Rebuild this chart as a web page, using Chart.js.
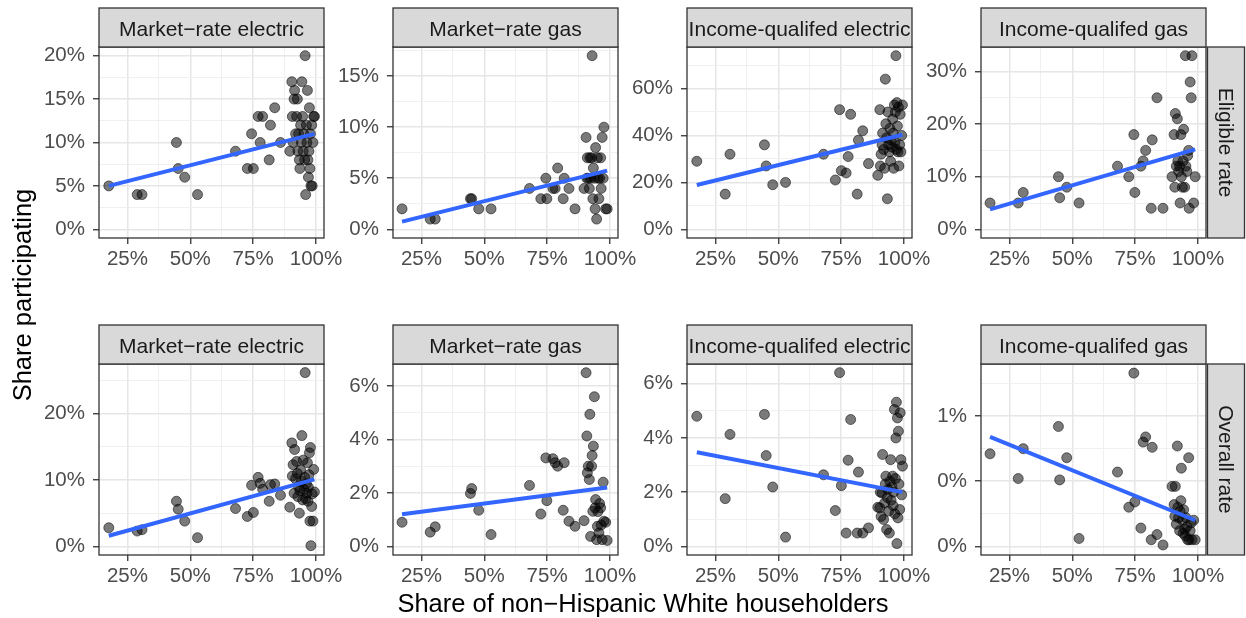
<!DOCTYPE html>
<html>
<head>
<meta charset="utf-8">
<script src="https://cdn.jsdelivr.net/npm/chart.js@4.4.1/dist/chart.umd.min.js"></script>
<style>
  html, body { margin: 0; padding: 0; background: #ffffff; }
  #page { position: relative; width: 1246px; height: 618px; overflow: hidden;
          font-family: "Liberation Sans", Arial, Helvetica, sans-serif; }
  #page canvas { position: absolute; }
  .axis-title { position: absolute; z-index: 5; color: #000000; font-size: 25.5px;
                white-space: nowrap; text-align: center; }
</style>
</head>
<body>
<div id="page">
  <div class="axis-title" style="left:243px; top:591px; width:800px; line-height:1;">Share of non−Hispanic White householders</div>
  <div class="axis-title" style="left:-178px; top:280px; width:400px; height:30px; line-height:30px; transform:rotate(-90deg);">Share participating</div>
</div>
<script>
// ---- Facet labels ----
const programs = ['Market−rate electric', 'Market−rate gas', 'Income-qualifed electric', 'Income-qualifed gas'];
const rateTypes = ['Eligible rate', 'Overall rate'];

// ---- Share of non-Hispanic White householders (%), one value per utility ----
const electricShareWhite = [17.6, 28.9, 30.8, 44.5, 45.2, 47.8, 52.9, 68.0, 72.7, 74.4, 75.1, 77.0, 77.8, 78.8, 81.4, 81.9, 83.6, 85.9, 89.6,
  90.4, 90.6, 90.9, 91.3, 91.5, 91.9, 92.3, 92.6, 92.8, 93.1, 93.4, 93.6, 93.9, 94.2, 94.4, 94.7, 94.9, 95.2, 95.5, 95.7, 95.9,
  96.2, 96.4, 96.6, 96.8, 97.0, 97.2, 97.4, 97.6, 97.8, 98.0, 98.3, 98.5, 98.8, 99.1, 99.4];
const gasShareWhite = [17.3, 28.5, 30.5, 44.5, 45.0, 47.8, 52.7, 68.0, 72.5, 74.5, 74.9, 77.3, 78.2, 79.2, 81.4, 81.8, 83.7, 86.1, 89.7,
  90.5, 90.8, 91.0, 91.4, 91.8, 92.0, 92.3, 92.7, 92.9, 93.2, 93.4, 93.8, 94.1, 94.3, 94.7, 95.0, 95.2, 95.6, 95.9, 96.3, 96.5,
  96.9, 97.3, 97.6, 98.3, 98.9];

// ---- Share participating (%) ----
const mrElecEligible = [5, 4, 4, 10, 7, 6, 4, 9, 7, 11, 7, 13, 10, 13, 8, 12, 14, 10, 9,
  17, 13, 10, 15, 16, 11, 13, 15, 9, 11, 8, 7, 12, 10, 17, 13, 9, 11, 8, 20, 4,
  12, 10, 16, 8, 6, 9, 14, 7, 11, 5, 12, 5, 10, 13, 13];
const mrGasEligible = [2, 1, 1, 3, 3, 2, 2, 4, 3, 5, 3, 4, 4, 6, 3, 5, 4, 2, 4,
  9, 5, 7, 5, 4, 7, 5, 7, 17, 3, 6, 5, 2, 8, 1, 7, 5, 3, 5, 7, 4,
  9, 5, 10, 2, 2];
const iqElecEligible = [29, 15, 32, 36, 27, 19, 20, 32, 21, 51, 25, 24, 31, 49, 15, 38, 42, 28, 23,
  51, 27, 32, 36, 41, 34, 26, 64, 45, 39, 13, 50, 36, 33, 43, 29, 38, 35, 47, 41, 26,
  53, 37, 50, 74, 34, 54, 44, 33, 52, 27, 36, 49, 33, 40, 53];
const iqGasEligible = [5, 5, 7, 10, 6, 8, 5, 12, 10, 18, 7, 12, 13, 15, 4, 17, 25, 4, 10,
  18, 8, 22, 12, 21, 13, 11, 12, 5, 18, 10, 8, 13, 19, 8, 33, 12, 11, 14, 15, 4,
  28, 25, 33, 5, 10];
const mrElecOverall = [2.8, 2.3, 2.5, 6.8, 5.6, 3.8, 1.3, 5.7, 4.5, 9.2, 5.1, 10.4, 9.5, 8.6, 6.8, 9.3, 9.4, 7.7, 5.9,
  15.6, 10.6, 12.3, 8.0, 14.6, 10.2, 12.8, 11.0, 7.5, 9.0, 5.0, 8.4, 11.5, 9.8, 16.7, 7.0, 13.0, 8.6, 10.4, 26.2, 7.2,
  9.4, 8.0, 12.6, 6.8, 8.9, 10.8, 14.1, 3.8, 14.9, 0.1, 6.0, 7.9, 3.8, 11.6, 8.2];
const mrGasOverall = [0.9, 0.53, 0.73, 1.98, 2.16, 1.35, 0.44, 2.28, 1.21, 3.31, 1.71, 3.28, 3.13, 3.0, 1.35, 3.13, 0.94, 0.75, 0.96,
  6.5, 4.13, 2.75, 3.0, 2.5, 4.94, 0.37, 3.0, 3.4, 1.31, 3.75, 5.6, 1.44, 1.75, 0.25, 0.75, 1.3, 0.5, 1.6, 1.44, 0.8,
  0.25, 2.4, 0.94, 0.9, 0.22];
const iqElecOverall = [4.8, 1.76, 4.13, 4.87, 3.35, 2.19, 0.34, 2.64, 1.32, 6.41, 2.24, 0.49, 3.18, 4.68, 0.49, 2.74, 0.49, 0.68, 1.44,
  1.42, 2.0, 1.1, 1.97, 3.39, 0.99, 1.6, 2.3, 2.59, 0.62, 1.8, 2.1, 1.3, 0.49, 2.4, 3.2, 1.7, 2.2, 2.59, 1.5, 2.0,
  5.05, 1.2, 2.5, 4.0, 5.32, 0.1, 4.74, 1.05, 4.25, 2.3, 1.36, 4.93, 3.2, 1.9, 2.96];
const iqGasOverall = [0.71, 0.52, 0.75, 0.92, 0.51, 0.68, 0.06, 0.57, 0.30, 1.33, 0.34, 0.14, 0.80, 0.84, 0.05, 0.76, 0.09, 0.01, 0.46,
  0.32, 0.23, 0.46, 0.17, 0.77, 0.30, 0.22, 0.12, 0.27, 0.35, 0.60, 0.20, 0.10, 0.28, 0.13, 0.08, 0.22, 0.15, 0.05, 0.68, 0.05,
  0.12, 0.18, 0.05, 0.20, 0.05];

// ---- Linear fit: value at lowest and highest share ----
const fitMrElecEligible = [5.0, 11.0];
const fitMrGasEligible = [0.75, 5.75];
const fitIqElecEligible = [18.9, 40.3];
const fitIqGasEligible = [3.8, 15.2];
const fitMrElecOverall = [1.6, 10.1];
const fitMrGasOverall = [1.2, 2.2];
const fitIqElecOverall = [3.47, 2.0];
const fitIqGasOverall = [0.84, 0.2];

// ---- Axis ticks and limits ----
const xTickValues = [25, 50, 75, 100];
const xTickLabels = ['25%', '50%', '75%', '100%'];
const xLimits = [13.7, 103.2];

const yTicksMrElecEligible = [0, 5, 10, 15, 20];
const yLabelsMrElecEligible = ['0%', '5%', '10%', '15%', '20%'];
const yTicksMrGasEligible = [0, 5, 10, 15];
const yLabelsMrGasEligible = ['0%', '5%', '10%', '15%'];
const yTicksIqElecEligible = [0, 20, 40, 60];
const yLabelsIqElecEligible = ['0%', '20%', '40%', '60%'];
const yTicksIqGasEligible = [0, 10, 20, 30];
const yLabelsIqGasEligible = ['0%', '10%', '20%', '30%'];
const yTicksMrElecOverall = [0, 10, 20];
const yLabelsMrElecOverall = ['0%', '10%', '20%'];
const yTicksMrGasOverall = [0, 2, 4, 6];
const yLabelsMrGasOverall = ['0%', '2%', '4%', '6%'];
const yTicksIqElecOverall = [0, 2, 4, 6];
const yLabelsIqElecOverall = ['0%', '2%', '4%', '6%'];
const yTicksIqGasOverall = [0, 0.5, 1];
const yLabelsIqGasOverall = ['0%', '0%', '1%'];

const yLimMrElecEligible = [-1, 21];
const yLimMrGasEligible = [-0.85, 17.85];
const yLimIqElecEligible = [-3.7, 77.7];
const yLimIqGasEligible = [-1.65, 34.65];
const yLimMrElecOverall = [-1.31, 27.5];
const yLimMrGasOverall = [-0.325, 6.825];
const yLimIqElecOverall = [-0.32, 6.73];
const yLimIqGasOverall = [-0.067, 1.4];

// ---- Layout ----
const PLOT_LEFT = [99, 393, 687, 981];
const PLOT_TOP = [47, 364];
const PLOT_W = 225, PLOT_H = 191;
const Y_AXIS_W = 75, X_AXIS_H = 45, TOP_PAD = 41, STRIP_H = 39;
const FONT = '"Liberation Sans", Arial, Helvetica, sans-serif';

const panels = [
  { row: 0, col: 0, x: electricShareWhite, y: mrElecEligible, fit: fitMrElecEligible, yt: yTicksMrElecEligible, yl: yLabelsMrElecEligible, lim: yLimMrElecEligible },
  { row: 0, col: 1, x: gasShareWhite, y: mrGasEligible, fit: fitMrGasEligible, yt: yTicksMrGasEligible, yl: yLabelsMrGasEligible, lim: yLimMrGasEligible },
  { row: 0, col: 2, x: electricShareWhite, y: iqElecEligible, fit: fitIqElecEligible, yt: yTicksIqElecEligible, yl: yLabelsIqElecEligible, lim: yLimIqElecEligible },
  { row: 0, col: 3, x: gasShareWhite, y: iqGasEligible, fit: fitIqGasEligible, yt: yTicksIqGasEligible, yl: yLabelsIqGasEligible, lim: yLimIqGasEligible },
  { row: 1, col: 0, x: electricShareWhite, y: mrElecOverall, fit: fitMrElecOverall, yt: yTicksMrElecOverall, yl: yLabelsMrElecOverall, lim: yLimMrElecOverall },
  { row: 1, col: 1, x: gasShareWhite, y: mrGasOverall, fit: fitMrGasOverall, yt: yTicksMrGasOverall, yl: yLabelsMrGasOverall, lim: yLimMrGasOverall },
  { row: 1, col: 2, x: electricShareWhite, y: iqElecOverall, fit: fitIqElecOverall, yt: yTicksIqElecOverall, yl: yLabelsIqElecOverall, lim: yLimIqElecOverall },
  { row: 1, col: 3, x: gasShareWhite, y: iqGasOverall, fit: fitIqGasOverall, yt: yTicksIqGasOverall, yl: yLabelsIqGasOverall, lim: yLimIqGasOverall }
];

// Major breaks carry labels; minor breaks sit halfway between them.
function breaksWithMinor(values, labels, lo, hi) {
  const step = values[1] - values[0];
  const out = values.map((v, i) => ({ value: v, minor: false, text: labels[i] }));
  const first = values[0] - step / 2;
  for (let m = first; m <= values[values.length - 1] + step; m += step) {
    out.push({ value: m, minor: true, text: '' });
  }
  return out.filter(t => t.value >= lo && t.value <= hi).sort((a, b) => a.value - b.value);
}

// Panel border, facet strip on top and row strip on the right.
const facetDecor = {
  id: 'facetDecor',
  afterDatasetsDraw(chart, args, opts) {
    const a = chart.chartArea, ctx = chart.ctx;
    ctx.save();
    ctx.lineWidth = 1.3;
    ctx.strokeStyle = '#333333';
    ctx.strokeRect(a.left, a.top, a.right - a.left, a.bottom - a.top);

    ctx.fillStyle = '#d9d9d9';
    ctx.fillRect(a.left, a.top - STRIP_H, a.right - a.left, STRIP_H);
    ctx.strokeRect(a.left, a.top - STRIP_H, a.right - a.left, STRIP_H);
    ctx.fillStyle = '#1a1a1a';
    ctx.font = '21px ' + FONT;
    ctx.textAlign = 'center';
    ctx.textBaseline = 'alphabetic';
    ctx.fillText(opts.top, (a.left + a.right) / 2, a.top - 11);

    if (opts.side) {
      const sx = a.right + 1.5, sw = 37;
      ctx.fillStyle = '#d9d9d9';
      ctx.fillRect(sx, a.top, sw, a.bottom - a.top);
      ctx.strokeRect(sx, a.top, sw, a.bottom - a.top);
      ctx.fillStyle = '#1a1a1a';
      ctx.translate(sx + sw / 2 - 7.5, (a.top + a.bottom) / 2);
      ctx.rotate(Math.PI / 2);
      ctx.fillText(opts.side, 0, 0);
    }
    ctx.restore();
  }
};

function gridStyle() {
  return {
    color: c => (c.tick && c.tick.minor) ? '#eeeeee' : '#e6e6e6',
    lineWidth: c => (c.tick && c.tick.minor) ? 0.9 : 1.5,
    tickColor: c => (c.tick && c.tick.minor) ? 'rgba(0,0,0,0)' : '#333333',
    tickWidth: 1.3,
    tickLength: 6,
    drawTicks: true,
    drawOnChartArea: true
  };
}

const page = document.getElementById('page');

panels.forEach(p => {
  const rightPad = p.col === 3 ? 40 : 30;
  const canvas = document.createElement('canvas');
  canvas.width = Y_AXIS_W + PLOT_W + rightPad;
  canvas.height = TOP_PAD + PLOT_H + X_AXIS_H;
  canvas.style.left = (PLOT_LEFT[p.col] - Y_AXIS_W) + 'px';
  canvas.style.top = (PLOT_TOP[p.row] - TOP_PAD) + 'px';
  page.insertBefore(canvas, page.firstChild);

  const xMin = Math.min(...p.x), xMax = Math.max(...p.x);
  const xBreaks = breaksWithMinor(xTickValues, xTickLabels, xLimits[0], xLimits[1]);
  const yBreaks = breaksWithMinor(p.yt, p.yl, p.lim[0], p.lim[1]);

  new Chart(canvas, {
    type: 'scatter',
    data: {
      datasets: [
        {
          type: 'line',
          data: [{ x: xMin, y: p.fit[0] }, { x: xMax, y: p.fit[1] }],
          borderColor: '#3366FF',
          borderWidth: 4,
          pointRadius: 0,
          fill: false,
          tension: 0,
          order: 0
        },
        {
          data: p.x.map((x, i) => ({ x: x, y: p.y[i] })),
          backgroundColor: 'rgba(0,0,0,0.52)',
          borderColor: 'rgba(0,0,0,0.52)',
          borderWidth: 1,
          pointRadius: 5,
          order: 1
        }
      ]
    },
    options: {
      responsive: false,
      animation: false,
      devicePixelRatio: 1,
      layout: { padding: { top: TOP_PAD, right: rightPad, left: 0, bottom: 0 } },
      plugins: {
        legend: { display: false },
        tooltip: { enabled: false },
        facetDecor: { top: programs[p.col], side: p.col === 3 ? rateTypes[p.row] : null }
      },
      scales: {
        x: {
          type: 'linear',
          min: xLimits[0],
          max: xLimits[1],
          afterBuildTicks: s => { s.ticks = xBreaks.map(t => Object.assign({}, t)); },
          afterFit: s => { s.height = X_AXIS_H; },
          grid: gridStyle(),
          border: { display: false },
          ticks: {
            autoSkip: false,
            maxRotation: 0,
            padding: 3,
            color: '#4d4d4d',
            font: { family: FONT, size: 20.5 },
            callback: (v, i, ticks) => ticks[i].text
          }
        },
        y: {
          type: 'linear',
          min: p.lim[0],
          max: p.lim[1],
          afterBuildTicks: s => { s.ticks = yBreaks.map(t => Object.assign({}, t)); },
          afterFit: s => { s.width = Y_AXIS_W; },
          grid: gridStyle(),
          border: { display: false },
          ticks: {
            autoSkip: false,
            padding: 8,
            color: '#4d4d4d',
            font: { family: FONT, size: 20.5 },
            callback: (v, i, ticks) => ticks[i].text
          }
        }
      }
    },
    plugins: [facetDecor]
  });
});
</script>
</body>
</html>
